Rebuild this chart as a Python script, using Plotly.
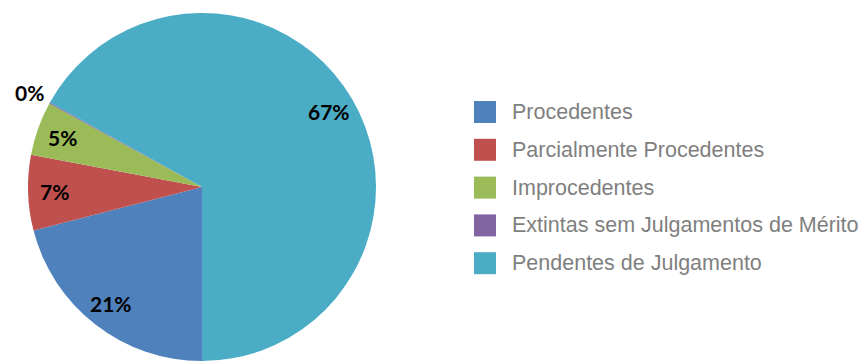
import math
import plotly.graph_objects as go

# Category names, shares (%) and slice colours
categories = [
    "Procedentes",
    "Parcialmente Procedentes",
    "Improcedentes",
    "Extintas sem Julgamentos de Mérito",
    "Pendentes de Julgamento",
]
shares = [21, 7, 5, 0.1, 67]
colors = ["#4F81BD", "#C0504D", "#9BBB59", "#8064A2", "#4BACC6"]

W, H = 864, 361
# pie domain in paper coordinates
dom_x = [28 / W, 376 / W]
dom_y = [0.0, 1 - 13 / H]

fig = go.Figure(
    go.Pie(
        labels=categories,
        values=shares,
        marker=dict(colors=colors, line=dict(width=0)),
        sort=False,
        direction="clockwise",
        rotation=180,
        textinfo="none",
        hoverinfo="label+percent",
        showlegend=False,
        domain=dict(x=dom_x, y=dom_y),
    )
)

# percentage labels placed along each slice's mid-angle
total = sum(shares)
radius_px = min((dom_x[1] - dom_x[0]) * W, (dom_y[1] - dom_y[0]) * H) / 2
cx = (dom_x[0] + dom_x[1]) / 2
cy = (dom_y[0] + dom_y[1]) / 2
start = 180.0
for cat, v in zip(categories, shares):
    frac = v / total
    span = frac * 360
    mid = math.radians(start + span / 2)
    start += span
    f = 0.85 if frac >= 0.02 else 1.13
    x = cx + f * radius_px * math.sin(mid) / W
    y = cy + f * radius_px * math.cos(mid) / H
    fig.add_annotation(
        x=x, y=y, xref="paper", yref="paper",
        text=f"<b>{round(frac * 100)}%</b>",
        showarrow=False,
        font=dict(family="Lato", size=21, color="#000000"),
        xanchor="center", yanchor="middle",
    )

# legend: colour squares with category names
leg_top = 1 - 112 / H
leg_step = 37.8 / H
for i, (cat, col) in enumerate(zip(categories, colors)):
    yc = leg_top - i * leg_step
    fig.add_shape(
        type="rect", xref="paper", yref="paper",
        x0=474 / W, x1=496 / W,
        y0=yc - 11 / H, y1=yc + 11 / H,
        fillcolor=col, line=dict(width=0),
    )
    fig.add_annotation(
        x=510 / W, y=yc, xref="paper", yref="paper",
        text=cat, showarrow=False,
        font=dict(family="Liberation Sans", size=21.5, color="#7F7F7F"),
        xanchor="left", yanchor="middle",
    )

fig.update_layout(
    width=W, height=H,
    margin=dict(l=0, r=0, t=0, b=0),
    paper_bgcolor="#FFFFFF",
    plot_bgcolor="#FFFFFF",
)

fig.write_html("out.html", config={"displayModeBar": False})
